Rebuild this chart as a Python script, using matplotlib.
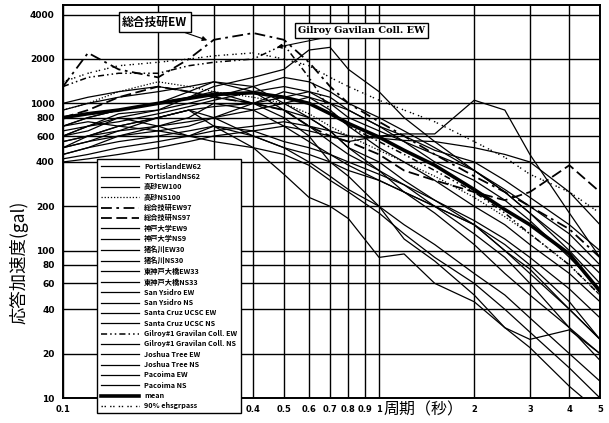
import matplotlib
matplotlib.use('Agg')
import matplotlib.pyplot as plt
from matplotlib.ticker import FixedLocator, NullLocator, NullFormatter

plt.rcParams['font.family'] = ['Noto Sans CJK JP', 'DejaVu Sans']

# ============================================================
# Data
# ============================================================

periods = [0.1, 0.12, 0.15, 0.2, 0.25, 0.3, 0.4, 0.5, 0.6, 0.7, 0.8,
           1.0, 1.2, 1.5, 2.0, 2.5, 3.0, 4.0, 5.0]

port_ew = [600, 700, 850, 900, 1000, 1100, 1300, 1500, 1400, 1200, 1000, 800, 650, 500, 350, 250, 180, 110, 70]
port_ns = [500, 550, 650, 800, 900, 950, 1000, 1100, 1200, 1100, 900, 700, 600, 480, 400, 300, 230, 150, 100]
taka_ew = [700, 800, 900, 1000, 1200, 1400, 1300, 1000, 800, 650, 500, 350, 250, 180, 110, 70, 50, 30, 20]
taka_ns = [900, 1000, 1200, 1400, 1300, 1200, 1100, 1000, 850, 700, 600, 480, 400, 320, 230, 170, 130, 80, 50]
sogo_ew = [1300, 2200, 1700, 1500, 2000, 2700, 3000, 2700, 1900, 1300, 1000, 750, 600, 450, 320, 250, 200, 140, 90]
sogo_ns = [800, 900, 1100, 1300, 1200, 1100, 1000, 900, 700, 600, 550, 450, 350, 300, 250, 220, 250, 380, 250]
kobe_ew = [450, 500, 600, 700, 800, 1000, 900, 700, 550, 450, 380, 300, 250, 200, 150, 110, 80, 45, 25]
kobe_ns = [550, 600, 650, 700, 750, 800, 1000, 1200, 1100, 900, 700, 500, 400, 300, 200, 150, 110, 70, 45]
ina_ew = [700, 750, 700, 800, 900, 800, 600, 500, 450, 400, 350, 300, 250, 200, 150, 100, 75, 40, 25]
ina_ns = [600, 650, 800, 700, 600, 700, 650, 550, 500, 450, 400, 330, 280, 220, 160, 120, 90, 55, 35]
higa_ew = [500, 550, 600, 650, 700, 800, 900, 1000, 1100, 1000, 900, 700, 550, 400, 300, 220, 160, 90, 55]
higa_ns = [650, 700, 750, 850, 950, 1050, 1200, 1300, 1200, 1000, 800, 650, 550, 450, 350, 260, 200, 130, 80]
sany_ew = [450, 500, 550, 600, 650, 700, 600, 500, 400, 320, 260, 200, 150, 110, 70, 50, 35, 20, 13]
sany_ns = [500, 600, 700, 650, 600, 550, 500, 450, 380, 300, 250, 180, 130, 90, 60, 40, 28, 16, 10]
sc_ew = [900, 1000, 1100, 1200, 1300, 1400, 1200, 900, 700, 550, 450, 350, 280, 200, 130, 90, 60, 30, 18]
sc_ns = [1000, 1100, 1200, 1300, 1200, 1100, 1000, 900, 800, 650, 500, 400, 300, 220, 150, 100, 70, 40, 25]
gil_ew = [1300, 1500, 1600, 1600, 1800, 1900, 2000, 2500, 1500, 900, 700, 550, 450, 350, 250, 180, 130, 80, 50]
gil_ns = [600, 700, 800, 900, 1100, 1300, 1500, 1700, 2300, 2400, 1700, 1200, 800, 550, 350, 250, 180, 100, 60]
josh_ew = [400, 420, 450, 500, 550, 600, 650, 700, 650, 600, 550, 600, 620, 620, 1050, 900, 450, 180, 90]
josh_ns = [420, 450, 500, 550, 600, 650, 700, 750, 700, 650, 600, 580, 560, 550, 500, 450, 400, 250, 150]
pac_ew = [700, 800, 900, 1000, 1100, 1200, 1000, 800, 600, 400, 320, 200, 120, 85, 50, 30, 22, 12, 8]
pac_ns = [550, 600, 700, 800, 900, 700, 500, 330, 230, 200, 165, 90, 95, 60, 45, 30, 25, 29, 20]
mean = [800, 850, 900, 1000, 1080, 1150, 1180, 1100, 1000, 850, 730, 590, 480, 380, 260, 190, 150, 95, 53]
env90 = [1400, 1600, 1800, 1900, 2000, 2100, 2200, 2000, 1800, 1500, 1300, 1050, 900, 750, 550, 430, 330, 250, 180]

labels = ['PortislandEW62', 'PortislandNS62', '高砂EW100', '高砂NS100',
          '総合技研EW97', '総合技研NS97', '神戸大学EW9', '神戸大学NS9',
          '猪名川EW30', '猪名川NS30', '東神戸大橋EW33', '東神戸大橋NS33',
          'San Ysidro EW', 'San Ysidro NS', 'Santa Cruz UCSC EW', 'Santa Cruz UCSC NS',
          'Gilroy#1 Gravilan Coll. EW', 'Gilroy#1 Gravilan Coll. NS',
          'Joshua Tree EW', 'Joshua Tree NS', 'Pacoima EW', 'Pacoima NS',
          'mean', '90% ehsgrpass']
series = [port_ew, port_ns, taka_ew, taka_ns, sogo_ew, sogo_ns, kobe_ew, kobe_ns,
          ina_ew, ina_ns, higa_ew, higa_ns, sany_ew, sany_ns, sc_ew, sc_ns,
          gil_ew, gil_ns, josh_ew, josh_ns, pac_ew, pac_ns, mean, env90]

yticks = [10, 20, 40, 60, 80, 100, 200, 400, 600, 800, 1000, 2000, 4000]
xticks = [0.1, 0.2, 0.3, 0.4, 0.5, 0.6, 0.7, 0.8, 0.9, 1, 2, 3, 4, 5]
# 0.2 and 0.3 are hidden behind the legend in the original
xtick_labels = ['0.1', '', '', '0.4', '0.5', '0.6', '0.7', '0.8', '0.9', '1', '2', '3', '4', '5']

# line style per record
styles = {}
for lab in labels:
    styles[lab] = dict(ls='-', lw=0.9)
styles['高砂NS100'] = dict(ls=(0, (1, 1.5)), lw=0.9)
styles['総合技研EW97'] = dict(ls=(0, (6, 2.5, 1.5, 2.5)), lw=1.3)
styles['総合技研NS97'] = dict(ls=(0, (6, 2.5)), lw=1.3)
styles['Gilroy#1 Gravilan Coll. EW'] = dict(ls=(0, (4, 2, 1, 2, 1, 2)), lw=1.1)
styles['mean'] = dict(ls='-', lw=2.6)
styles['90% ehsgrpass'] = dict(ls=(0, (1, 1.2, 1, 3)), lw=1.0)


# ============================================================
# Plot
# ============================================================

fig = plt.figure(figsize=(6.09, 4.23), dpi=100)
ax = fig.add_axes([63 / 609, 1 - 398 / 423, (600 - 63) / 609, (398 - 5) / 423])

for lab, vals in zip(labels, series):
    ax.plot(periods, vals, color='black', label=lab, **styles[lab])

ax.set_xscale('log')
ax.set_yscale('log')
ax.set_xlim(0.1, 5)
ax.set_ylim(10, 4650)

ax.xaxis.set_major_locator(FixedLocator(xticks))
ax.xaxis.set_minor_locator(NullLocator())
ax.set_xticklabels(xtick_labels, fontsize=6, fontweight='bold', family='DejaVu Sans')
ax.yaxis.set_major_locator(FixedLocator(yticks))
ax.yaxis.set_minor_locator(NullLocator())
ax.set_yticklabels([str(v) for v in yticks], fontsize=6.5, fontweight='bold', family='DejaVu Sans')
ax.tick_params(length=0, pad=6)
ax.tick_params(axis='x', pad=5)
ax.grid(True, color='black', linewidth=1.0)
ax.set_axisbelow(True)
for sp in ax.spines.values():
    sp.set_linewidth(1.4)

fig.text(424 / 609, 1 - 410 / 423, '周期（秒）', ha='center', va='center', fontsize=11.5)
fig.text(19 / 609, 1 - 262 / 423, '応答加速度(gal)', ha='center', va='center',
         rotation=90, fontsize=12.5)

# callouts
box = dict(boxstyle='square,pad=0.3', fc='white', ec='black', lw=1.0)
ax.annotate('総合技研EW', xy=(0.286, 2680), xytext=(0.195, 3560),
            fontsize=8.5, fontweight='bold', ha='center', va='center', bbox=box,
            arrowprops=dict(arrowstyle='-|>', color='black', lw=0.8,
                            shrinkA=0, shrinkB=0, mutation_scale=7))
ax.annotate('Gilroy Gavilan Coll. EW', xy=(0.475, 2400), xytext=(0.88, 3140),
            fontsize=7, fontweight='bold', ha='center', va='center', bbox=box,
            family='DejaVu Serif',
            arrowprops=dict(arrowstyle='-|>', color='black', lw=0.8,
                            shrinkA=0, shrinkB=0, mutation_scale=7))

leg = ax.legend(loc='lower left', bbox_to_anchor=(97 / 609, 1 - 413 / 423),
                bbox_transform=fig.transFigure, prop=dict(size=5.2, weight='bold'),
                frameon=True, fancybox=False, edgecolor='black', framealpha=1,
                borderpad=0.5, labelspacing=0.46, handlelength=5.3,
                handletextpad=0.7, borderaxespad=0)
leg.get_frame().set_linewidth(1.0)
leg.set_zorder(10)

fig.savefig('out.png', dpi=100)
